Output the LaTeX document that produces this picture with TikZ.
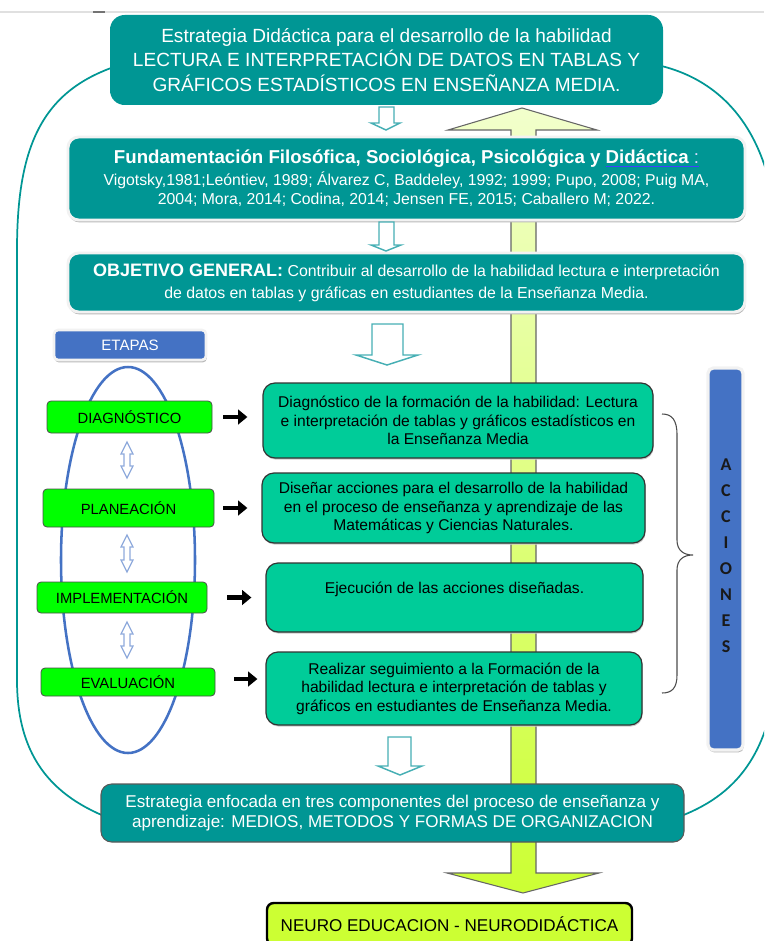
\documentclass[tikz,border=0pt]{standalone}
\usepackage{fontspec}
\setmainfont{Liberation Sans}
\newfontfamily\calibri{Carlito}
\usetikzlibrary{calc,shadows,arrows.meta}

\definecolor{verdeazul}{RGB}{0,150,148}
\definecolor{verdeagua}{RGB}{0,204,153}
\definecolor{verdevivo}{RGB}{0,255,0}
\definecolor{azulcaja}{RGB}{68,114,196}
\definecolor{lima}{RGB}{204,255,51}
\definecolor{limaclaro}{RGB}{242,255,204}
\definecolor{celeste}{RGB}{143,170,220}
\definecolor{turquesa}{RGB}{70,175,180}

\begin{document}
\begin{tikzpicture}[x=0.75pt,y=0.75pt,yscale=-1,xscale=1,
    cajatitulo/.style={rounded corners=11pt, fill=verdeazul, text=white, inner sep=0pt, align=center,
        font=\fontsize{14.3}{18.5}\selectfont},
    cajabisel/.style={rounded corners=8pt, fill=verdeazul, text=white, inner sep=0pt, align=center,
        draw=white!90!gray, line width=2.2pt,
        drop shadow={shadow xshift=0.6pt, shadow yshift=-1.8pt, fill=gray!55, opacity=1}},
    cajaetapa/.style={rounded corners=3pt, fill=verdevivo, draw=black!70, line width=0.6pt, inner sep=0pt,
        font=\fontsize{11.1}{13}\selectfont},
    cajaaccion/.style={rounded corners=9pt, fill=verdeagua, draw=black!80, line width=0.9pt, inner sep=0pt,
        align=center, font=\fontsize{11.7}{13.9}\selectfont,
        drop shadow={shadow xshift=0.5pt, shadow yshift=-1.2pt, fill=gray!40, opacity=1}},
    cajaazul/.style={rounded corners=3pt, fill=azulcaja, draw=white!90!gray, line width=2pt, inner sep=0pt,
        drop shadow={shadow xshift=0.6pt, shadow yshift=-1.8pt, fill=gray!55, opacity=1}},
    flechahueca/.style={draw=turquesa, fill=white, line width=1.1pt, line join=miter},
    flechadoble/.style={draw=celeste, fill=white, line width=0.9pt},
    flechanegra/.style={line width=3.6pt, -{Triangle[length=7pt,width=11pt]}},
    ]
\useasboundingbox (0,0) rectangle (764,941);
\clip (0,0) rectangle (764,941);

%Line at top
\draw[black!12, line width=0.8pt] (0,12) -- (764,12);
\draw[black!55, line width=1.4pt] (93,12) -- (105,12);

%Loop round the diagram
\draw[verdeazul, line width=1.3pt] (130,62) .. controls (45,85) and (17,140) .. (17,250) -- (17,680)
    .. controls (17,760) and (55,800) .. (120,822) -- (670,820)
    .. controls (730,800) and (775,760) .. (778,650) -- (778,250)
    .. controls (775,130) and (720,72) .. (640,62) -- cycle;

%Shape: Double Arrow (lime)
\draw[black!60, line width=0.8pt, top color=limaclaro, bottom color=lima]
    (522,108) -- (597,130) -- (536,130) -- (536,873) -- (599,873) -- (523,893)
    -- (447,873) -- (511,873) -- (511,130) -- (448,130) -- cycle;

%Shape: Ellipse (etapas)
\draw[azulcaja, line width=1.9pt] (128,560) ellipse [x radius=67, y radius=193];

%Boxes on top
\node[cajatitulo, minimum width=414.75pt, minimum height=67.5pt] (titulo) at (386.5,60)
    {Estrategia Didáctica para el desarrollo de la habilidad\\
    LECTURA E INTERPRETACIÓN DE DATOS EN TABLAS Y\\
    GRÁFICOS ESTADÍSTICOS EN ENSEÑANZA MEDIA.};

\node[cajabisel, minimum width=507.75pt, minimum height=62.25pt, font=\fontsize{11.85}{14.6}\selectfont]
    (fundamento) at (406.5,178.5)
    {{\fontsize{14}{15}\selectfont\bfseries Fundamentación Filosófica, Sociológica, Psicológica y
      \textcolor{blue!75}{\underline{\textcolor{white}{Didáctica}\textcolor{white!85!blue}{\mdseries\ :}}}}\\[1.5pt]
    Vigotsky,1981;Leóntiev, 1989; Álvarez C, Baddeley, 1992; 1999; Pupo, 2008; Puig MA,\\
    2004; Mora, 2014; Codina, 2014; Jensen FE, 2015; Caballero M; 2022.};

\node[cajabisel, minimum width=507.75pt, minimum height=44.25pt, font=\fontsize{11.9}{16.5}\selectfont]
    (objetivo) at (406.5,282.5)
    {{\fontsize{13.5}{15}\selectfont\bfseries OBJETIVO GENERAL:} Contribuir al desarrollo de la habilidad lectura e interpretación\\
    de datos en tablas y gráficas en estudiantes de la Enseñanza Media.};

\node[cajaazul, minimum width=114pt, minimum height=22.5pt, text=white, font=\fontsize{11.3}{13}\selectfont]
    (etapas) at (130,345) {ETAPAS};

%Etapas
\node[cajaetapa, minimum width=123.75pt, minimum height=24pt] (diagnostico) at (129.5,417) {DIAGNÓSTICO};
\node[cajaetapa, minimum width=128.25pt, minimum height=28.5pt] (planeacion) at (128.5,508) {PLANEACIÓN};
\node[cajaetapa, minimum width=127.5pt, minimum height=23.25pt] (implementacion) at (122,597.5) {IMPLEMENTACIÓN};
\node[cajaetapa, minimum width=130.5pt, minimum height=21pt] (evaluacion) at (128,682) {EVALUACIÓN};

%Acciones
\node[cajaaccion, minimum width=292.5pt, minimum height=56.25pt] (accion1) at (458,420.5)
    {Diagnóstico de la formación de la habilidad: Lectura\\
    e interpretación de tablas y gráficos estadísticos en\\ la Enseñanza Media};
\node[cajaaccion, minimum width=287.25pt, minimum height=52.5pt] (accion2) at (453.5,508)
    {Diseñar acciones para el desarrollo de la habilidad\\
    en el proceso de enseñanza y aprendizaje de las\\ Matemáticas y Ciencias Naturales.};
\node[cajaaccion, minimum width=282.75pt, minimum height=51.75pt] (accion3) at (454.5,597.5)
    {Ejecución de las acciones diseñadas.\\ \phantom{x}};
\node[cajaaccion, minimum width=282pt, minimum height=54.75pt] (accion4) at (454,688.5)
    {Realizar seguimiento a la Formación de la\\
    habilidad lectura e interpretación de tablas y\\ gráficos en estudiantes de Enseñanza Media.};

\node[cajaazul, rounded corners=4pt, line width=2.4pt, minimum width=26.25pt, minimum height=286.5pt]
    (barra) at (725.5,559) {};
\node[align=center, text=black!90, font=\calibri\bfseries\fontsize{13.5}{19.5}\selectfont] (acciones)
    at (726,556) {A\\C\\C\\I\\O\\N\\E\\S};

\node[cajatitulo, rounded corners=8pt, draw=black!65, line width=0.8pt, minimum width=437.25pt,
    minimum height=43.5pt, font=\fontsize{12.8}{15}\selectfont] (enfoque) at (392.5,813)
    {Estrategia enfocada en tres componentes del proceso de enseñanza y\\
    aprendizaje: MEDIOS, METODOS Y FORMAS DE ORGANIZACION};

\node[rounded corners=5pt, fill=lima, draw=black, line width=1.8pt, inner sep=0pt,
    font=\fontsize{12.8}{14}\selectfont, minimum width=273.75pt, minimum height=31.5pt] (neuro)
    at (449.5,924) {NEURO EDUCACION - NEURODIDÁCTICA};

%Hollow arrows
\draw[flechahueca] (379,107) -- (394,107) -- (394,123) -- (400,123) -- (386,130) -- (371,123) -- (379,123) -- cycle;
\draw[flechahueca] (379,222) -- (394,222) -- (394,245) -- (401,245) -- (386,251) -- (371,245) -- (379,245) -- cycle;
\draw[flechahueca] (372,324) -- (403,324) -- (403,355) -- (418,355) -- (387,365) -- (356,355) -- (372,355) -- cycle;
\draw[flechahueca] (388,737) -- (411,737) -- (411,766) -- (422,766) -- (400,775) -- (378,766) -- (388,766) -- cycle;

%Double arrows between etapas
\draw[flechadoble] (127,442) -- (133,454) -- (130,454) -- (130,466) -- (133,466) -- (127,478)
    -- (121,466) -- (124,466) -- (124,454) -- (121,454) -- cycle;
\draw[flechadoble] (127,535) -- (133,547) -- (130,547) -- (130,560) -- (133,560) -- (127,572)
    -- (121,560) -- (124,560) -- (124,547) -- (121,547) -- cycle;
\draw[flechadoble] (127,622) -- (133,634) -- (130,634) -- (130,646) -- (133,646) -- (127,658)
    -- (121,646) -- (124,646) -- (124,634) -- (121,634) -- cycle;

%Black arrows etapa -> accion
\draw[flechanegra, shorten <=8.25pt, shorten >=11.25pt] (diagnostico.east) -- (diagnostico.east -| accion1.west);
\draw[flechanegra, shorten <=6.75pt, shorten >=10.5pt] (planeacion.east) -- (planeacion.east -| accion2.west);
\draw[flechanegra, shorten <=15pt, shorten >=10.5pt] (implementacion.east) -- (implementacion.east -| accion3.west);
\draw[flechanegra, shorten <=14.25pt, shorten >=6pt] ([yshift=-2.25pt]evaluacion.east) -- ([yshift=-2.25pt]evaluacion.east -| accion4.west);

%Brace
\draw[black!70, line width=0.8pt] (662,414) .. controls (672,414) and (677,420) .. (677,435) -- (677,540)
    .. controls (677,550) and (683,555) .. (693,555) .. controls (683,555) and (677,560) .. (677,570)
    -- (677,675) .. controls (677,688) and (672,693) .. (662,693);
\end{tikzpicture}
\end{document}
